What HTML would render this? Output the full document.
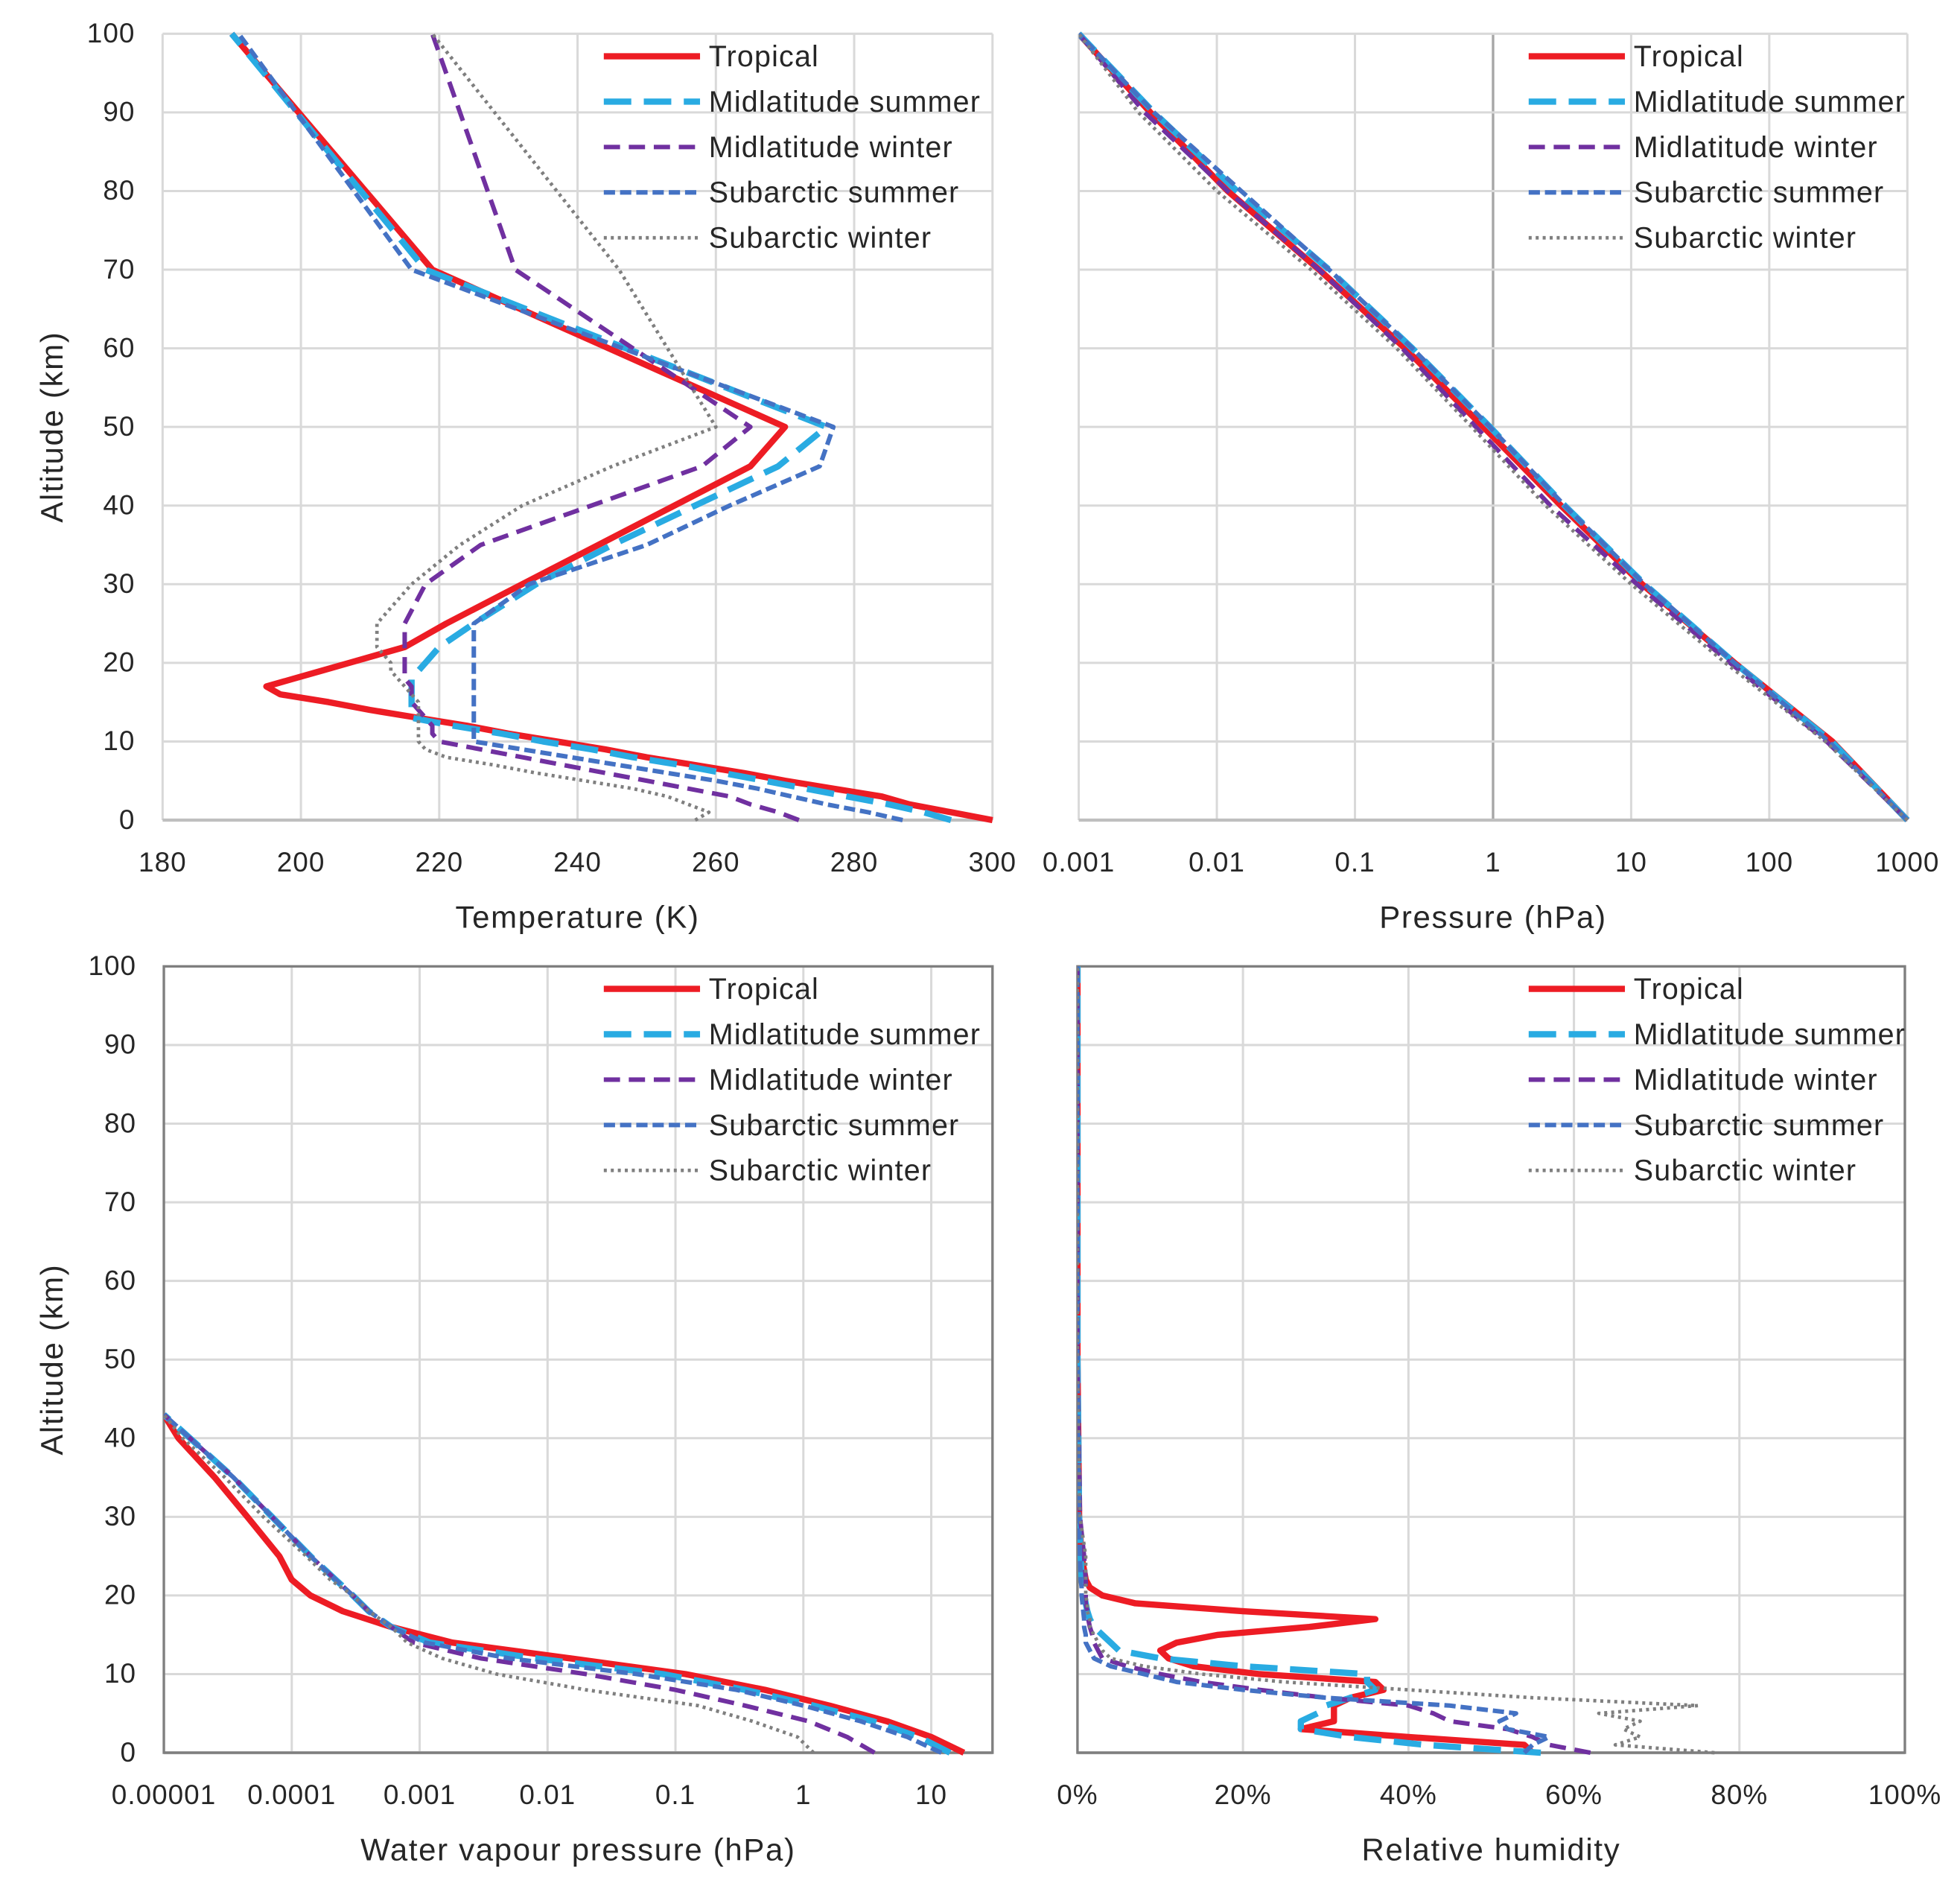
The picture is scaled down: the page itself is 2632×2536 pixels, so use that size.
<!DOCTYPE html>
<html><head><meta charset="utf-8"><style>
html,body{margin:0;padding:0;background:#fff;}
svg{display:block;font-family:"Liberation Sans",sans-serif;}
</style></head><body>
<svg id="chart" width="2632" height="2536" viewBox="0 0 1568 1511" xmlns="http://www.w3.org/2000/svg"></svg>
<script>
// ---- data ----
const seriesNames = ["Tropical","Midlatitude summer","Midlatitude winter","Subarctic summer","Subarctic winter"];
// Temperature (K)
const tAlt = [0,1,2,3,4,5,6,7,8,9,10,11,12,13,14,15,16,17,18,19,20,21,22,25,30,35,40,45,50,70,100];
const tTrop = [300,294,288,284,277,270,264,257,250,244,237,230,224,217,210,204,197,195,199,203,207,211,215,221,232,243,254,265,270,219,190];
const tMLS = [294,290,285,279,273,267,261,255,248,242,235,229,222,216,216,216,216,216,216,217,218,219,220,225,234,245,257,269,276,218,190];
const tMLW = [272,269,265,262,256,250,244,238,232,226,220,219,219,218,217,216,216,216,215,215,215,215,215,215,218,226,242,258,265,231,219];
const tSAS = [287,282,276,271,266,260,253,246,239,232,225,225,225,225,225,225,225,225,225,225,225,225,225,225,233,250,262,275,277,216,191];
const tSAW = [257,259,256,253,248,241,234,228,221,218,217,217,217,217,217,217,216,215,214,213,213,212,211,211,216,223,232,245,260,246,219];
// Pressure (hPa)
const pAlt = [0,10,20,30,40,50,60,70,80,90,100];
const pTrop = [1000,286,56,12,3.1,0.85,0.23,0.055,0.012,0.0033,0.001];
const pMLS = [1000,282,56,12.5,3.3,0.95,0.26,0.065,0.014,0.0035,0.001];
const pMLW = [1000,260,52,11,2.6,0.75,0.22,0.055,0.012,0.003,0.001];
const pSAS = [1000,270,56,12.5,3.3,0.95,0.26,0.065,0.015,0.0035,0.001];
const pSAW = [1000,255,48,10,2.4,0.7,0.2,0.048,0.010,0.0027,0.001];
// Water vapour pressure (hPa)
const wAlt = [0,2,4,6,8,10,12,14,16,18,20,22,25,30,35,40,43];
const wTrop = [18,10,4.5,1.6,0.5,0.12,0.015,0.0018,0.0006,0.00025,0.00014,0.0001,0.00008,0.000045,0.000025,0.000013,0.00001];
const wMLS = [14,8,3.5,1.2,0.35,0.08,0.008,0.0012,0.0006,0.0004,0.0003,0.00022,0.00014,0.00007,0.000035,0.000016,0.00001];
const wMLW = [3.6,2.2,1.1,0.35,0.1,0.02,0.003,0.0009,0.0006,0.0004,0.0003,0.00022,0.00014,0.00007,0.000035,0.000016,0.00001];
const wSAS = [12,6.5,2.8,1.0,0.3,0.05,0.005,0.0011,0.0006,0.0004,0.0003,0.00022,0.00014,0.00007,0.000035,0.000016,0.00001];
const wSAW = [1.2,0.9,0.4,0.15,0.02,0.004,0.0015,0.0008,0.0006,0.0004,0.0003,0.0002,0.00013,0.00006,0.00003,0.000014,0.00001];
// Relative humidity (%)
const hAlt = [0,1,2,3,4,5,6,7,8,9,10,11,12,13,14,15,16,17,18,19,20,21,22,25,30,50,100];
const hTrop = [55,54,40,27,31,31,31,33,37,36,22,14,11,10,12,17,28,36,20,7,3,1.5,1,0.5,0.2,0,0];
const hMLS = [56,42,33,27,27,29,30,33,36,35,35,20,10,5,4,3,2,1.5,1.2,1,0.8,0.6,0.5,0.4,0.2,0,0];
const hMLW = [62,57,55,52,45,43,40,30,22,15,10,6,3,2.5,2,1.8,1.5,1.3,1.2,1,1,1,1,0.8,0.3,0,0];
const hSAS = [54,55,57,52,51,53,45,30,20,12,8,4,2,1.5,1,1,0.8,0.8,0.7,0.6,0.5,0.5,0.4,0.3,0.2,0,0];
const hSAW = [77,65,68,66,68,63,75,55,40,25,15,8,4,3,2.5,2,1.5,1.5,1.2,1.2,1,1,1,1,0.3,0,0];
const altTicks = [0,10,20,30,40,50,60,70,80,90,100];
const tTicks = [180,200,220,240,260,280,300];
const pTicks = ["0.001","0.01","0.1","1","10","100","1000"];
const wTicks = ["0.00001","0.0001","0.001","0.01","0.1","1","10"];
const hTicks = [0,20,40,60,80,100];

const styles = [
 {c:"#ed1c24",w:5,d:""},
 {c:"#29abe2",w:5,d:"22,10"},
 {c:"#7030a0",w:3.6,d:"13,7"},
 {c:"#4472c4",w:3.6,d:"9,4"},
 {c:"#7f7f7f",w:2.8,d:"2.4,3.2"}
];
const NS="http://www.w3.org/2000/svg";
const svg=document.getElementById('chart');
function mk(tag,attrs,parent){const e=document.createElementNS(NS,tag);for(const k in attrs)e.setAttribute(k,attrs[k]);(parent||svg).appendChild(e);return e;}

function panel(cfg){
  const g=mk('g',{});
  
  
  const y=a=>cfg.y0+(cfg.y1-cfg.y0)*(1-a/100);
  const X=cfg.x;
  cfg.xticks.forEach((t,i)=>{
    const xx=X(cfg.xval(t));
    const l=mk('line',{x1:xx,x2:xx,y1:cfg.y0,y2:cfg.y1,stroke:(cfg.darkX===i)?"#a6a6a6":"#d9d9d9","stroke-width":(cfg.darkX===i)?2:1.8},g);
    
    
    const tx=mk('text',{x:xx,y:cfg.y1+41,"font-size":22,"letter-spacing":0.6,"text-anchor":"middle",fill:"#262626"},g);
    
    
    tx.textContent=cfg.xlab(t);
  });
  altTicks.forEach(a=>{
    const yy=y(a);
    const l=mk('line',{x1:cfg.gx0,x2:cfg.gx1,y1:yy,y2:yy,stroke:a===0?"#bfbfbf":"#d9d9d9","stroke-width":a===0?2.5:1.8},g);
    
    
    if(cfg.ylabels){
      const tx=mk('text',{x:cfg.gx0-22,y:yy+7,"font-size":22,"letter-spacing":0.6,"text-anchor":"end",fill:"#262626"},g);
      
      
      tx.textContent=a;
    }
  });
  if(cfg.box){
    const r=mk('rect',{x:cfg.gx0,y:cfg.y0,width:cfg.gx1-cfg.gx0,height:cfg.y1-cfg.y0,fill:"none",stroke:"#7f7f7f","stroke-width":2},g);
    
    
  }
  const cp=mk('clipPath',{id:cfg.name+'-clip'},g);
  mk('rect',{x:cfg.gx0,y:cfg.y0-3,width:cfg.gx1-cfg.gx0+3,height:cfg.y1-cfg.y0+6},cp);
  cfg.series.forEach((vals,si)=>{
    const st=styles[si];
    const pts=vals.map((v,i)=>X(cfg.xval(v)).toFixed(1)+","+y(cfg.alt[i]).toFixed(1)).join(" ");
    const p=mk('polyline',{points:pts,fill:"none",stroke:st.c,"stroke-width":st.w,"stroke-dasharray":st.d,"stroke-linejoin":"round","clip-path":"url(#"+cfg.name+"-clip)"},g);
    
    
  });
  const lg=mk('g',{},g);
  
  
  seriesNames.forEach((n,i)=>{
    const ly=cfg.y0+18+i*36.3;
    const st=styles[i];
    const l=mk('line',{x1:cfg.lx,x2:cfg.lx+77,y1:ly,y2:ly,stroke:st.c,"stroke-width":st.w,"stroke-dasharray":st.d},lg);
    
    
    const t=mk('text',{x:cfg.lx+84,y:ly+8,"font-size":23.5,"letter-spacing":0.7,fill:"#262626"},lg);
    
    
    t.textContent=n;
  });
  const xt=mk('text',{x:(cfg.gx0+cfg.gx1)/2,y:cfg.y1+86,"font-size":25,"letter-spacing":1,"text-anchor":"middle",fill:"#262626"},g);
  
  
  xt.textContent=cfg.xtitle;
  if(cfg.ylabels){
    const cy=(cfg.y0+cfg.y1)/2;
    const yt=mk('text',{x:50,y:cy,"font-size":25,"letter-spacing":1,"text-anchor":"middle",fill:"#262626",transform:"rotate(-90 50 "+cy+")"},g);
    
    
    yt.textContent="Altitude (km)";
  }
}
const lin=(a,b,v0,v1)=>v=>a+(b-a)*(v-v0)/(v1-v0);
const lg10=v=>Math.log10(Math.max(+v,1e-12));

panel({name:'temperature-panel',gx0:130,gx1:794,y0:27,y1:656,x:lin(130,794,180,300),xval:v=>+v,xticks:tTicks,xlab:t=>t,
 alt:tAlt,series:[tTrop,tMLS,tMLW,tSAS,tSAW],lx:483,xtitle:"Temperature (K)",ylabels:true});
panel({name:'pressure-panel',gx0:863,gx1:1526,y0:27,y1:656,x:lin(863,1526,-3,3),xval:lg10,xticks:pTicks,xlab:t=>t,darkX:3,
 alt:pAlt,series:[pTrop,pMLS,pMLW,pSAS,pSAW],lx:1223,xtitle:"Pressure (hPa)",ylabels:false});
panel({name:'water-vapour-panel',gx0:131,gx1:794,y0:773,y1:1402,x:lin(131,745,-5,1),xval:lg10,xticks:wTicks,xlab:t=>t,box:true,
 alt:wAlt,series:[wTrop,wMLS,wMLW,wSAS,wSAW],lx:483,xtitle:"Water vapour pressure (hPa)",ylabels:true});
panel({name:'humidity-panel',gx0:862,gx1:1524,y0:773,y1:1402,x:lin(862,1524,0,100),xval:v=>+v,xticks:hTicks,xlab:t=>t+"%",box:true,
 alt:hAlt,series:[hTrop,hMLS,hMLW,hSAS,hSAW],lx:1223,xtitle:"Relative humidity",ylabels:false});
</script>
</body></html>
